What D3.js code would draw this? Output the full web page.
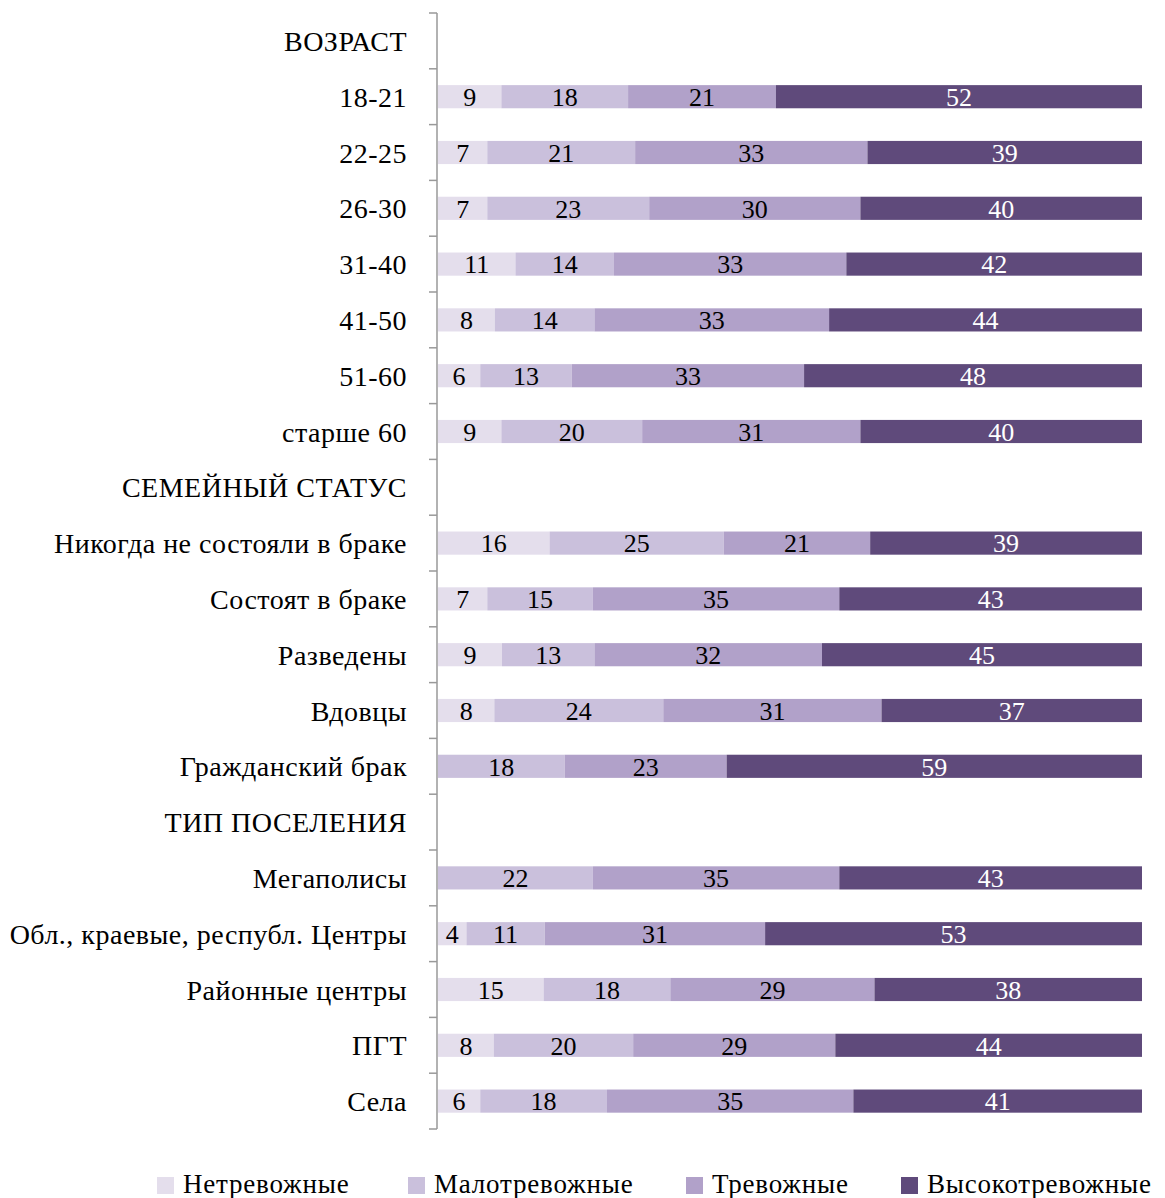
<!DOCTYPE html>
<html>
<head>
<meta charset="utf-8">
<script src="https://cdn.jsdelivr.net/npm/d3@7"></script>
<style>
  body { margin: 0; background: #fff; }
  svg text { font-family: "Liberation Serif", "DejaVu Serif", serif; }
</style>
</head>
<body>
<div id="chart"></div>
<script>
// categories (null values = header rows without bars)
const categories = [
  "ВОЗРАСТ", "18-21", "22-25", "26-30", "31-40", "41-50", "51-60", "старше 60",
  "СЕМЕЙНЫЙ СТАТУС", "Никогда не состояли в браке", "Состоят в браке", "Разведены", "Вдовцы", "Гражданский брак",
  "ТИП ПОСЕЛЕНИЯ", "Мегаполисы", "Обл., краевые, республ. Центры", "Районные центры", "ПГТ", "Села"
];
const seriesNames = ["Нетревожные", "Малотревожные", "Тревожные", "Высокотревожные"];
const colors = ["#e4deec", "#cac0dc", "#b1a1c9", "#5f4a7b"];

const netrevozhnye     = [null, 9, 7, 7, 11, 8, 6, 9, null, 16, 7, 9, 8, 0, null, 0, 4, 15, 8, 6];
const malotrevozhnye   = [null, 18, 21, 23, 14, 14, 13, 20, null, 25, 15, 13, 24, 18, null, 22, 11, 18, 20, 18];
const trevozhnye       = [null, 21, 33, 30, 33, 33, 33, 31, null, 21, 35, 32, 31, 23, null, 35, 31, 29, 29, 35];
const vysokotrevozhnye = [null, 52, 39, 40, 42, 44, 48, 40, null, 39, 43, 45, 37, 59, null, 43, 53, 38, 44, 41];

const seriesValues = [netrevozhnye, malotrevozhnye, trevozhnye, vysokotrevozhnye];

const W = 1165, H = 1198;
const margin = { top: 13, left: 437, right: 23, bottom: 69 };

const svg = d3.select("#chart").append("svg")
  .attr("width", W).attr("height", H);

const innerH = H - margin.top - margin.bottom;
const innerW = W - margin.left - margin.right;

const y = d3.scaleBand().domain(categories).range([margin.top, margin.top + innerH]).paddingInner(0.585).paddingOuter(0.2925);
const yTicks = d3.scaleLinear().domain([0, categories.length]).range([margin.top, margin.top + innerH]);
const x = d3.scaleLinear().domain([0, 100]).range([margin.left + 1, margin.left + innerW]);

// rows as percentage-normalized stacks
const rows = categories.map((c, i) => {
  const vals = seriesValues.map(s => s[i]);
  return { cat: c, vals };
}).filter(r => r.vals[0] !== null);

rows.forEach(r => {
  const total = d3.sum(r.vals);
  let acc = 0;
  r.segs = r.vals.map((v, k) => {
    const s = { k, v, x0: acc / total * 100, x1: (acc + v) / total * 100 };
    acc += v;
    return s;
  });
});

const rowG = svg.selectAll(".row").data(rows).join("g").attr("class", "row");

rowG.selectAll("rect").data(r => r.segs.filter(s => s.v > 0).map(s => ({ ...s, cat: r.cat })))
  .join("rect")
  .attr("x", d => x(d.x0))
  .attr("width", d => x(d.x1) - x(d.x0))
  .attr("y", d => y(d.cat))
  .attr("height", y.bandwidth())
  .attr("fill", d => colors[d.k]);

rowG.selectAll("text").data(r => r.segs.filter(s => s.v > 0).map(s => ({ ...s, cat: r.cat })))
  .join("text")
  .attr("x", d => (x(d.x0) + x(d.x1)) / 2)
  .attr("y", d => y(d.cat) + y.bandwidth() / 2)
  .attr("dy", "0.36em")
  .attr("text-anchor", "middle")
  .attr("font-size", 26)
  .attr("fill", d => d.k === 3 ? "#fff" : "#000")
  .text(d => d.v);

// axis line and ticks
const axisG = svg.append("g");
axisG.append("line")
  .attr("x1", margin.left).attr("x2", margin.left)
  .attr("y1", margin.top).attr("y2", margin.top + innerH)
  .attr("stroke", "#999").attr("stroke-width", 1.5);
axisG.selectAll(".tick").data(d3.range(categories.length + 1)).join("line")
  .attr("x1", margin.left - 8).attr("x2", margin.left)
  .attr("y1", d => yTicks(d)).attr("y2", d => yTicks(d))
  .attr("stroke", "#999").attr("stroke-width", 1.5);

// category labels
svg.selectAll(".cat").data(categories).join("text")
  .attr("class", "cat")
  .attr("x", margin.left - 30)
  .attr("y", d => y(d) + y.bandwidth() / 2)
  .attr("dy", "0.36em")
  .attr("text-anchor", "end")
  .attr("font-size", 28)
  .attr("letter-spacing", 0.5)
  .attr("fill", "#000")
  .text(d => d);

// legend
const legendX = [157, 408, 686, 901];
const legend = svg.selectAll(".legend").data(seriesNames).join("g")
  .attr("class", "legend")
  .attr("transform", (d, i) => `translate(${legendX[i]},1184)`);
legend.append("rect").attr("x", 0).attr("y", -7).attr("width", 17).attr("height", 17)
  .attr("fill", (d, i) => colors[i]);
legend.append("text").attr("x", 26).attr("y", 0).attr("dy", "0.32em")
  .attr("font-size", 27).attr("letter-spacing", 0.8).attr("fill", "#000").text(d => d);
</script>
</body>
</html>
